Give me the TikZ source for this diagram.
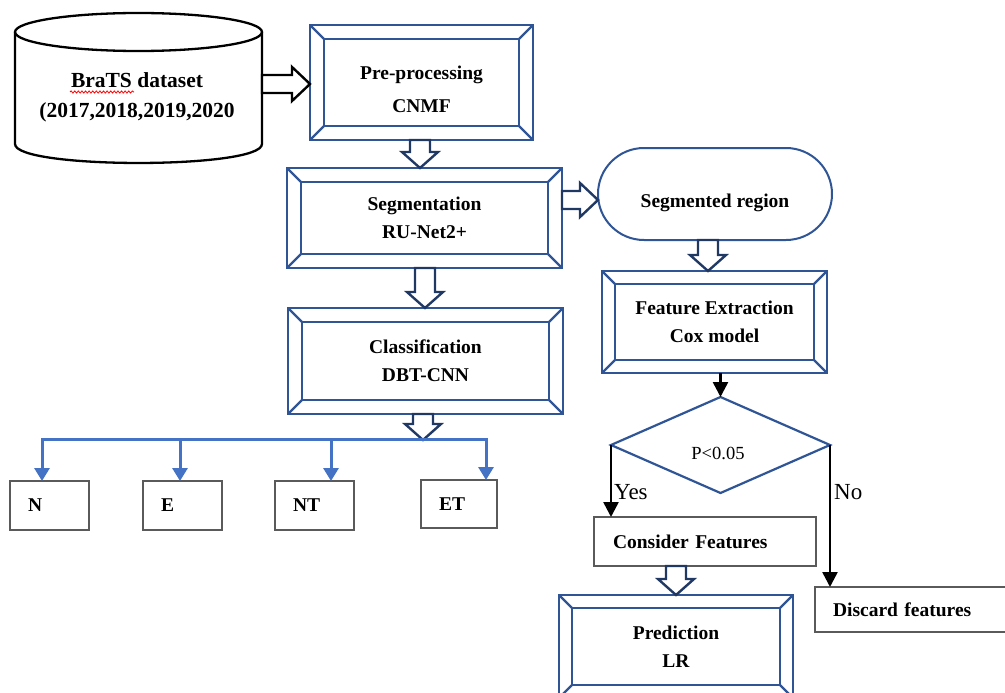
\documentclass[tikz,border=0pt]{standalone}
\usepackage{fontspec}
\setmainfont{Liberation Serif}
\usetikzlibrary{arrows.meta,calc,shapes.geometric,decorations.pathmorphing}
\definecolor{bevc}{HTML}{2F5597}
\definecolor{navy}{HTML}{203864}
\definecolor{buscol}{HTML}{4472C4}
\definecolor{boxg}{HTML}{5A5A5A}

\newcommand{\bevelize}[2]{%
 \draw[bev] (#1.north west) rectangle (#1.south east);
 \draw[bev] ($(#1.north west)+(#2,#2)$) rectangle ($(#1.south east)+(-#2,-#2)$);
 \draw[bevd] (#1.north west) -- ++(#2,#2);
 \draw[bevd] (#1.north east) -- ++(-#2,#2);
 \draw[bevd] (#1.south west) -- ++(#2,-#2);
 \draw[bevd] (#1.south east) -- ++(-#2,-#2);}

\newcommand{\rblock}[4]{%
 \draw[barrow, draw=#4] let \p1=(#1 |- 0,#3), \p2=(#2 |- 0,#3) in
 (\x1,\y1+9pt) -- (\x2-18pt,\y1+9pt) -- (\x2-18pt,\y1+17pt) -- (\x2,\y1)
 -- (\x2-18pt,\y1-17pt) -- (\x2-18pt,\y1-9pt) -- (\x1,\y1-9pt) -- cycle;}

\newcommand{\dblock}[3]{%
 \draw[barrow] let \p1=(#3,0 |- #1), \p2=(#3,0 |- #2) in
 (\x1-10pt,\y1) -- (\x1-10pt,\y2+16pt) -- (\x1-18pt,\y2+16pt) -- (\x1,\y2)
 -- (\x1+18pt,\y2+16pt) -- (\x1+10pt,\y2+16pt) -- (\x1+10pt,\y1) -- cycle;}

\begin{document}
\begin{tikzpicture}[x=1pt,y=-1pt,
  bev/.style={draw=bevc, line width=2.6pt},
  bevd/.style={draw=bevc, line width=2.2pt},
  bx/.style={font=\bfseries\fontsize{19.5}{28}\selectfont, align=center, inner sep=0pt, outer sep=0pt},
  barrow/.style={draw=navy, fill=white, line width=2.4pt, line join=miter},
  cyl/.style={draw=black, line width=2.3pt},
  stad/.style={draw=bevc, line width=2pt, rounded corners=46pt, font=\bfseries\fontsize{19.5}{24}\selectfont, inner sep=0pt, outer sep=0pt},
  sbox/.style={draw=boxg, line width=1.3pt, inner xsep=18pt, inner ysep=0pt, outer sep=0pt, align=left, font=\bfseries\fontsize{19.5}{24}\selectfont},
  busl/.style={draw=buscol, line width=3pt, line cap=rect},
  busa/.style={draw=buscol, line width=3pt, -{Triangle[width=15pt,length=13pt]}},
  blka/.style={draw=black, line width=2.6pt, -{Triangle[width=15pt,length=15pt]}},
  lab/.style={font=\fontsize{23}{26}\selectfont, inner sep=0pt}
]
\useasboundingbox (0,0) rectangle (1005,693);
\fill[white] (0,0) rectangle (1005,693);
\clip (0,0) rectangle (1005,693);

% dataset cylinder
\draw[cyl] (15,32) -- (15,144) .. controls (15,169.3) and (262,169.3) .. (262,144) -- (262,32);
\draw[cyl] (138.5,32) ellipse [x radius=123.5, y radius=19];
\node[inner sep=0pt, outer sep=0pt, minimum width=247, minimum height=112] (db) at (138.5,88) {};
\node[font=\bfseries\fontsize{21.5}{30}\selectfont, align=center, inner sep=0pt] (dbt) at (137,97) {BraTS dataset\\(2017,2018,2019,2020};
\draw[red, line width=0.8pt, decorate, decoration={snake, amplitude=1.1pt, segment length=3.6pt}] (70,92) -- (134,92);

% bevelled process boxes
\node[bx, minimum width=223, minimum height=115] (pre) at (421.5,82.5) {\rule{0pt}{27pt}Pre-processing\\[5pt]CNMF};
\node[bx, minimum width=275, minimum height=100] (seg) at (424.5,218) {Segmentation\\RU-Net2+};
\node[bx, minimum width=275, minimum height=106] (cls) at (425.5,361) {Classification\\DBT-CNN};
\node[bx, minimum width=225, minimum height=102] (feat) at (714.5,322) {Feature Extraction\\Cox model};
\node[bx, minimum width=234, minimum height=103] (pred) at (676,646.5) {Prediction\\LR};
\bevelize{pre}{14}
\bevelize{seg}{14}
\bevelize{cls}{14}
\bevelize{feat}{13}
\bevelize{pred}{13}

% segmented region
\node[stad, minimum width=234, minimum height=92] (segr) at (715,194) {\rule{0pt}{31pt}Segmented region};

% decision
\node[draw=bevc, line width=2.2pt, diamond, minimum width=219, minimum height=96, inner sep=0pt, outer sep=0pt, aspect=2.28] (dia) at (720.5,445) {};
\node[font=\fontsize{18.5}{20}\selectfont, inner sep=0pt] (pt) at (718,453) {P<0.05};

% class boxes
\node[sbox, minimum width=79, minimum height=49, text width=43pt] (nN) at (49.5,505.5) {N};
\node[sbox, minimum width=79, minimum height=49, text width=43pt] (nE) at (182.5,505.5) {E};
\node[sbox, minimum width=79, minimum height=49, text width=43pt] (nNT) at (314.5,505.5) {NT};
\node[sbox, minimum width=76, minimum height=48, text width=40pt] (nET) at (459,504) {ET};

% result boxes
\node[sbox, inner xsep=19pt, minimum width=222, minimum height=49, text width=184pt] (cons) at (705,541.5) {Consider Features};
\node[sbox, minimum width=195, minimum height=45, text width=159pt] (disc) at (912.5,609.5) {Discard features};

% block arrows
\rblock{db.east}{pre.west}{84}{black}
\rblock{seg.east}{segr.west}{200}{navy}
\dblock{pre.south}{seg.north}{420}
\dblock{seg.south}{cls.north}{425}
\coordinate (bus) at (423,440);
\dblock{cls.south}{bus}{423}
\dblock{segr.south}{feat.north}{708}
\dblock{cons.south}{pred.north}{676}

% class bus
\coordinate (b1) at (42,439);
\coordinate (b2) at (180,439);
\coordinate (b3) at (331,439);
\coordinate (b4) at (486,439);
\draw[busl] (b1) -- (b4);
\draw[busa] (b1) -- (b1 |- nN.north);
\draw[busa] (b2) -- (b2 |- nE.north);
\draw[busa] (b3) -- (b3 |- nNT.north);
\draw[busa] (b4) -- (b4 |- nET.north);

% decision arrows
\draw[blka] (dia.north |- feat.south) -- (dia.north);
\draw[blka] (dia.west) -- (dia.west |- cons.north);
\draw[blka] (dia.east) -- (dia.east |- disc.north);
\node[lab, anchor=west] (yes) at (614,492) {Yes};
\node[lab, anchor=west] (no) at (834,492) {No};
\end{tikzpicture}
\end{document}
